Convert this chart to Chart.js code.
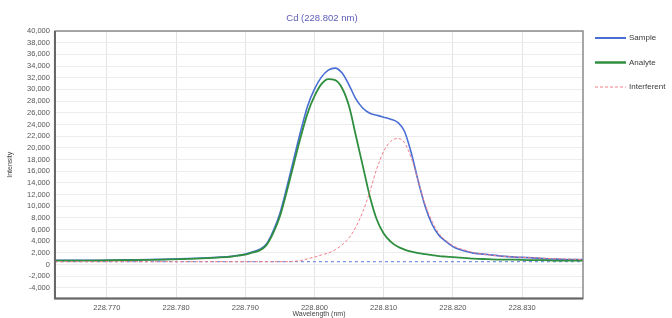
<!DOCTYPE html>
<html>
<head>
<meta charset="utf-8">
<script src="https://cdn.jsdelivr.net/npm/chart.js@4.4.1/dist/chart.umd.min.js"></script>
<style>
html,body{margin:0;padding:0;background:#fff;}
#wrap{width:672px;height:318px;position:relative;}
</style>
</head>
<body>
<div id="wrap"><canvas id="c" width="672" height="318"></canvas></div>
<script>
const titleText = 'Cd (228.802 nm)';
const yTicks = [-4000,-2000,0,2000,4000,6000,8000,10000,12000,14000,16000,18000,20000,22000,24000,26000,28000,30000,32000,34000,36000,38000,40000];
const xTicks = [228.770,228.780,228.790,228.800,228.810,228.820,228.830];

const wavelength = [228.7625,228.768,228.773,228.778,228.783,228.786,228.788,228.789,228.790,228.791,
  228.792,228.793,228.794,228.795,228.796,228.797,228.798,228.799,228.800,228.801,
  228.802,228.803,228.804,228.805,228.806,228.807,228.808,228.809,228.810,228.811,
  228.812,228.813,228.814,228.815,228.816,228.817,228.818,228.819,228.820,228.821,
  228.822,228.823,228.825,228.827,228.829,228.831,228.833,228.835,228.837,228.8388];

const sample = [750,750,820,900,1080,1250,1420,1600,1800,2150,
  2580,3430,5670,8760,13220,18030,22830,27120,30040,32100,
  33300,33650,32790,30730,28330,26780,25920,25580,25240,24890,
  24380,22830,19060,14250,9960,6870,4980,3950,3090,2580,
  2230,1970,1720,1460,1290,1200,1030,940,860,860];

const analyte = [700,700,770,860,1030,1200,1370,1550,1720,2060,
  2400,3260,5320,8240,12530,17170,21800,25900,28840,30900,
  31760,31590,30200,27100,21970,16820,11670,7730,5320,3950,
  3090,2580,2230,1970,1800,1630,1460,1370,1290,1200,
  1120,1030,940,860,860,770,770,700,700,700];

const interferent = [500,500,500,500,500,500,500,500,500,500,
  500,500,500,500,500,560,700,1000,1300,1650,
  2000,2550,3400,4600,6500,9100,12500,16400,19400,21100,
  21600,20900,18200,14300,10300,7400,5300,4100,3250,2750,
  2400,2050,1700,1450,1300,1200,1100,1000,950,850];

const backgroundX = [228.7625,228.8388];
const backgroundY = [500,500];

const pts = (xs, ys) => xs.map((x,i)=>({x:x,y:ys[i]}));
const fam = '"Liberation Sans", Arial, sans-serif';

const frame = {
  id:'frame',
  afterDraw(chart){
    const a = chart.chartArea, ctx = chart.ctx;
    ctx.save();
    ctx.strokeStyle = '#8a8a8a';
    ctx.lineWidth = 1.5;
    ctx.strokeRect(a.left, a.top, a.right-a.left, a.bottom-a.top);
    ctx.strokeStyle = '#666';
    ctx.lineWidth = 2;
    ctx.beginPath();
    ctx.moveTo(a.left, a.top); ctx.lineTo(a.left, a.bottom); ctx.lineTo(a.right, a.bottom);
    ctx.stroke();
    // title centred over the plot area
    ctx.fillStyle = '#5c5cb8';
    ctx.font = '9.5px ' + fam;
    ctx.textAlign = 'center';
    ctx.textBaseline = 'middle';
    ctx.fillText(titleText, (a.left + a.right)/2 + 3, 18);
    // legend
    const ds = chart.data.datasets.filter(d=>d.label);
    ds.forEach((d,i)=>{
      const x0 = a.right + 12, y = a.top + 7 + i*24.5;
      ctx.strokeStyle = d.borderColor;
      ctx.lineWidth = d.legendWidth;
      ctx.setLineDash(d.borderDash || []);
      ctx.beginPath(); ctx.moveTo(x0, y); ctx.lineTo(x0+31, y); ctx.stroke();
      ctx.setLineDash([]);
      ctx.fillStyle = '#3a3a3a';
      ctx.font = '8px ' + fam;
      ctx.textBaseline = 'middle';
      ctx.textAlign = 'left';
      ctx.fillText(d.label, x0+34, y);
    });
    ctx.restore();
  }
};

const tickFont = {family:fam, size:7.5, lineHeight:1};
const axFont = {family:fam, size:7, lineHeight:1};

new Chart(document.getElementById('c'), {
  type:'line',
  data:{
    datasets:[
      {label:'Sample', data:pts(wavelength,sample), borderColor:'#4a6fd4', borderWidth:1.6, legendWidth:2, pointRadius:0, cubicInterpolationMode:'monotone', fill:false, order:2},
      {label:'Analyte', data:pts(wavelength,analyte), borderColor:'#2f8f3f', borderWidth:1.8, legendWidth:2.5, pointRadius:0, cubicInterpolationMode:'monotone', fill:false, order:1},
      {label:'Interferent', data:pts(wavelength,interferent), borderColor:'#f07f8a', borderWidth:1, legendWidth:1.2, borderDash:[3,2], pointRadius:0, cubicInterpolationMode:'monotone', fill:false, order:0},
      {label:'', data:pts(backgroundX,backgroundY), borderColor:'#5b78d8', borderWidth:1, borderDash:[3,3], pointRadius:0, fill:false, order:3}
    ]
  },
  options:{
    responsive:false,
    animation:false,
    layout:{padding:{left:7, right:89, top:31, bottom:0}},
    plugins:{
      title:{display:false},
      legend:{display:false},
      tooltip:{enabled:false}
    },
    scales:{
      x:{
        type:'linear', min:228.7625, max:228.8388,
        afterBuildTicks:(ax)=>{ax.ticks = xTicks.map(v=>({value:v}));},
        ticks:{callback:(v)=>Number(v).toFixed(3), color:'#555', font:tickFont, maxRotation:0, padding:6},
        grid:{color:'#e4e4e4', drawTicks:false},
        border:{display:false},
        title:{display:true, text:'Wavelength (nm)', color:'#444', font:axFont, padding:{top:-7,bottom:0}}
      },
      y:{
        min:-5800, max:40000,
        afterBuildTicks:(ax)=>{ax.ticks = yTicks.map(v=>({value:v}));},
        ticks:{callback:(v)=>Number(v).toLocaleString('en-US'), color:'#555', font:tickFont, padding:5},
        grid:{color:'#ececec', drawTicks:false},
        border:{display:false},
        title:{display:true, text:'Intensity', color:'#444', font:axFont, padding:{top:0,bottom:8}}
      }
    }
  },
  plugins:[frame]
});
</script>
</body>
</html>
